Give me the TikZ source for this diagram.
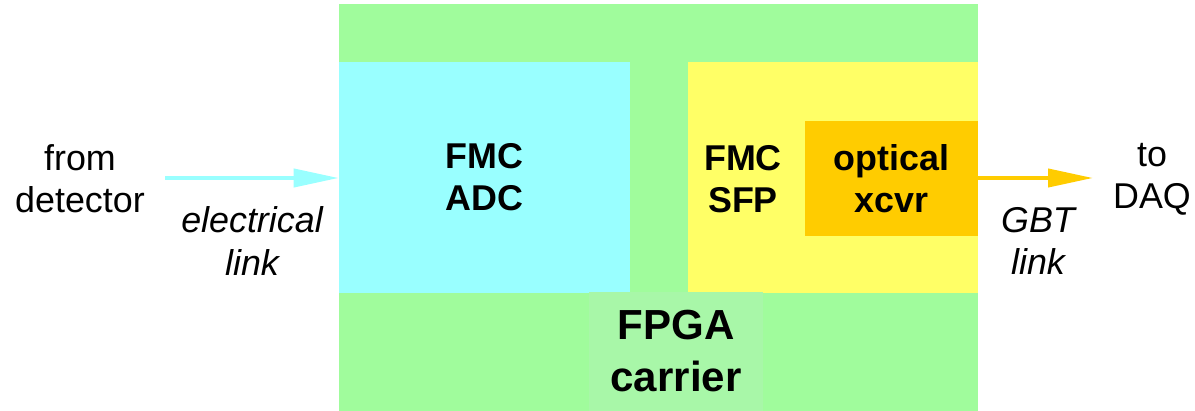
\documentclass[tikz,border=0pt]{standalone}
\usepackage{fontspec}
\setmainfont{Liberation Sans}
\usetikzlibrary{arrows.meta,positioning}
\definecolor{boardgreen}{RGB}{160,252,156}
\definecolor{fpgagreen}{RGB}{168,247,168}
\definecolor{adccyan}{RGB}{153,255,255}
\definecolor{sfpyellow}{RGB}{255,255,102}
\definecolor{xcvrorange}{RGB}{255,204,0}

\begin{document}
\begin{tikzpicture}[
  x=0.025cm, y=-0.025cm,
  box/.style={rectangle, inner sep=0pt, align=center, font=\fontsize{25.5}{29.9}\selectfont\bfseries},
  txt/.style={align=center, font=\fontsize{25.5}{29.9}\selectfont},
  arrow/.style={-{Triangle[length=1.125cm, width=0.45cm]}, line width=0.1cm}
]
  \useasboundingbox (0,0) rectangle (1195,411);
  % boards
  \node[box, fill=boardgreen, minimum width=15.975cm, minimum height=10.175cm] (carrier) at (658.5,207.5) {};
  \node[box, fill=adccyan, minimum width=7.275cm, minimum height=5.775cm] (adc) at (484.5,177.5) {FMC\\ADC};
  \node[box, fill=sfpyellow, minimum width=7.25cm, minimum height=5.775cm] (sfp) at (833,177.5) {};
  \node[box, fill=xcvrorange, minimum width=4.325cm, minimum height=2.875cm] (xcvr) at (891.5,178.5) {optical\\xcvr};
  \node[box, txt, font=\fontsize{29.9}{37}\selectfont\bfseries, fill=fpgagreen, minimum width=4.35cm, minimum height=2.975cm] (fpga) at (676,351.5) {FPGA\\carrier};
  \node[box] (sfplbl) at (743,179) {FMC\\SFP};
  % outside labels
  \node[txt] (det) at (80,179) {from\\detector};
  \node[txt, font=\fontsize{25.5}{29.9}\selectfont\itshape] (elec) at (252,241) {electrical\\link};
  \node[txt] (daq) at (1152,179) {to\\DAQ};
  \node[txt, font=\fontsize{25.5}{29.9}\selectfont\itshape] (gbt) at (1038,241) {GBT\\link};
  % links
  \coordinate (elstart) at (165,178);
  \coordinate (gbtend) at (1093,178);
  \draw[arrow, adccyan] (elstart) -- (elstart -| adc.west);
  \draw[arrow, xcvrorange] (gbtend -| xcvr.east) -- (gbtend);
\end{tikzpicture}
\end{document}
